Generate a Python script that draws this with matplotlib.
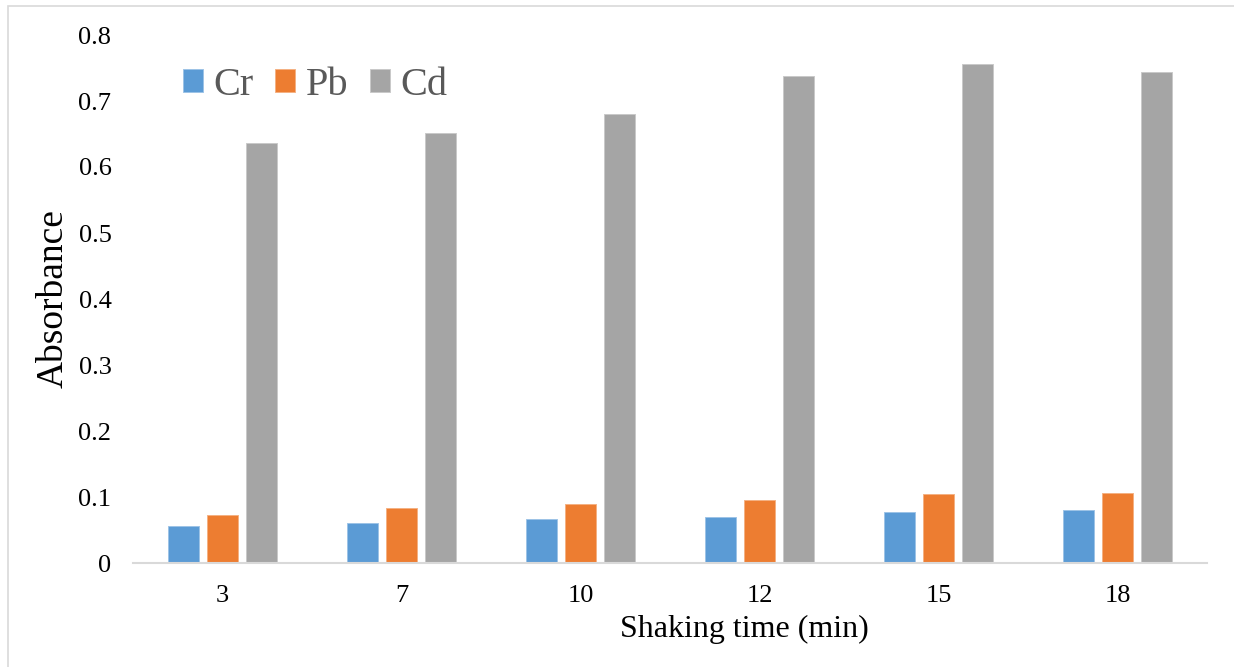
import numpy as np
import matplotlib.pyplot as plt
from matplotlib.patches import Rectangle

times = ['3', '7', '10', '12', '15', '18']
cr = [0.056, 0.060, 0.066, 0.070, 0.078, 0.080]
pb = [0.072, 0.084, 0.090, 0.095, 0.104, 0.106]
cd = [0.636, 0.652, 0.680, 0.738, 0.756, 0.744]
series = ['Cr', 'Pb', 'Cd']
colors = ['#5B9BD5', '#ED7D31', '#A5A5A5']
edges = ['#9DC3E6', '#F4B183', '#C9C9C9']

plt.rcParams['font.family'] = ['Liberation Serif', 'DejaVu Serif']

W, H = 1234, 667
fig = plt.figure(figsize=(W / 100, H / 100), dpi=100)

# chart area border (only the top and left edges fall inside the image)
fig.patches.append(Rectangle((8 / W, -0.1), 1.2, 1 - 6 / H + 0.1, transform=fig.transFigure,
                             fill=False, edgecolor='#D9D9D9', linewidth=1.2))

ax = fig.add_axes([133 / W, 1 - 563 / H, (1207 - 133) / W, (563 - 35) / H])

x = np.arange(len(times))
bw = 0.173
step = 0.22
for i, (vals, name) in enumerate(zip([cr, pb, cd], series)):
    ax.bar(x + (i - 1) * step, vals, bw, color=colors[i], edgecolor=edges[i],
           linewidth=0.7, label=name, zorder=2)

ax.set_xlim(-0.5, len(times) - 0.5)
ax.set_ylim(0, 0.8)
ax.set_yticks(np.arange(0, 0.81, 0.1))
ax.set_yticklabels(['0'] + ['%.1f' % v for v in np.arange(0.1, 0.81, 0.1)])
ax.set_xticks(x)
ax.set_xticklabels(times)
ax.tick_params(axis='both', length=0, labelsize=19)
ax.tick_params(axis='y', pad=15.5)
ax.tick_params(axis='x', pad=16)

for s in ['top', 'right', 'left']:
    ax.spines[s].set_visible(False)
ax.spines['bottom'].set_color('#D9D9D9')
ax.spines['bottom'].set_linewidth(1.5)
ax.spines['bottom'].set_zorder(3)

ax.set_ylabel('Absorbance', fontsize=27, labelpad=6)
ax.set_xlabel('Shaking time (min)', fontsize=23, labelpad=1)
ax.xaxis.set_label_coords(0.569, -0.0975)

leg = ax.legend(loc='upper left', bbox_to_anchor=(0.0125, 1.008), ncol=3, frameon=False,
                fontsize=29, handlelength=0.5, handleheight=0.5, handletextpad=0.25,
                columnspacing=0.55, labelcolor='#595959')

fig.savefig('out.png', dpi=100)
